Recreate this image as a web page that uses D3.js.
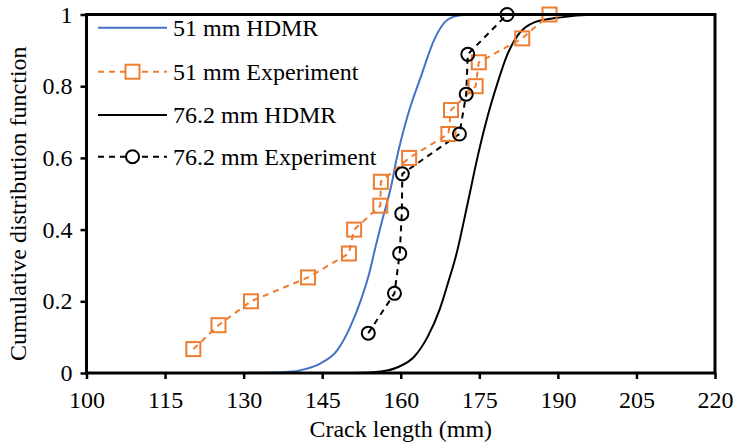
<!DOCTYPE html>
<html><head><meta charset="utf-8">
<script src="https://cdn.jsdelivr.net/npm/d3@7"></script>
<style>
html,body{margin:0;padding:0;background:#fff;}
text{font-family:"Liberation Serif","Times New Roman",serif;fill:#000;}
</style></head>
<body><svg id="c" width="736" height="445"></svg>
<script>
// ---- data ----
const xTicks = [100,115,130,145,160,175,190,205,220];
const yTicks = [0,0.2,0.4,0.6,0.8,1];
const yTickLabels = ["0","0.2","0.4","0.6","0.8","1"];

const hdmr51X = [126,134,139.6,140.9,144.7,147.9,150.4,152.4,154,155.2,156.5,158.3,159.1,161.3,163.9,166.4,169,171.5,176.3];
const hdmr51Y = [0,0.001,0.004,0.008,0.027,0.064,0.13,0.204,0.279,0.353,0.428,0.53,0.59,0.717,0.829,0.93,0.986,0.998,1.0];

const exp51X = [120.4,125.2,131.4,142.3,150.1,151.1,156.1,156.2,161.6,169.1,169.6,174.3,174.9,183.2,188.4];
const exp51Y = [1/15,2/15,3/15,4/15,5/15,6/15,7/15,8/15,9/15,10/15,11/15,12/15,13/15,14/15,1];

const hdmr76X = [148,153,156.2,159.4,162.6,165.1,167.4,169,170.6,172.8,174.7,176.6,178.5,180.4,182.3,185.5,190.6,196.4,202];
const hdmr76Y = [0,0.001,0.004,0.016,0.046,0.10,0.176,0.25,0.33,0.475,0.605,0.717,0.81,0.89,0.941,0.978,0.992,0.999,1.0];

const exp76X = [153.8,158.8,159.8,160.2,160.3,171.2,172.5,172.8,180.3];
const exp76Y = [1/9,2/9,3/9,4/9,5/9,6/9,7/9,8/9,1];

const legendLabels = ["51 mm HDMR","51 mm Experiment","76.2 mm HDMR","76.2 mm Experiment"];

// ---- layout ----
const svg = d3.select("#c");
const L = 86.5, R = 715, T = 14.5, B = 373;
const x = d3.scaleLinear().domain([100,220]).range([L,R]);
const y = d3.scaleLinear().domain([0,1]).range([B,T]);
const FS = 24;
const orange = "#ED7D31", blue = "#4472C4";

const zip = (a,b)=>a.map((v,i)=>[v,b[i]]);
const line = d3.line().x(d=>x(d[0])).y(d=>y(d[1]));
const smooth = d3.line().x(d=>x(d[0])).y(d=>y(d[1])).curve(d3.curveMonotoneX);

// axes
const xAxis = d3.axisBottom(x).tickValues(xTicks).tickSize(6).tickSizeOuter(0).tickPadding(6).tickFormat(d3.format("d"));
const gx = svg.append("g").attr("transform",`translate(0,${B})`).call(xAxis);
gx.select(".domain").remove();
gx.selectAll("line").attr("stroke","#000").attr("stroke-width",2.5);
gx.selectAll("text").attr("font-size",FS).attr("font-family","Liberation Serif").attr("dy","0.95em");

const yAxis = d3.axisLeft(y).tickValues(yTicks).tickSize(6).tickSizeOuter(0).tickPadding(8).tickFormat((d,i)=>yTickLabels[i]);
const gy = svg.append("g").attr("transform",`translate(${L},0)`).call(yAxis);
gy.select(".domain").remove();
gy.selectAll("line").attr("stroke","#000").attr("stroke-width",2.5);
gy.selectAll("text").attr("font-size",FS).attr("font-family","Liberation Serif");

// series
svg.append("path").datum(zip(hdmr51X,hdmr51Y)).attr("d",smooth).attr("fill","none").attr("stroke",blue).attr("stroke-width",2);
svg.append("path").datum(zip(hdmr76X,hdmr76Y)).attr("d",smooth).attr("fill","none").attr("stroke","#000").attr("stroke-width",2);

svg.append("path").datum(zip(exp51X,exp51Y)).attr("d",line).attr("fill","none").attr("stroke",orange).attr("stroke-width",2).attr("stroke-dasharray","6,5");
svg.append("path").datum(zip(exp76X,exp76Y)).attr("d",line).attr("fill","none").attr("stroke","#000").attr("stroke-width",2).attr("stroke-dasharray","6,5");

const S = 14;
svg.append("g").selectAll("rect").data(zip(exp51X,exp51Y)).join("rect")
  .attr("x",d=>x(d[0])-S/2).attr("y",d=>y(d[1])-S/2).attr("width",S).attr("height",S)
  .attr("fill","none").attr("stroke",orange).attr("stroke-width",2);
svg.append("g").selectAll("circle").data(zip(exp76X,exp76Y)).join("circle")
  .attr("cx",d=>x(d[0])).attr("cy",d=>y(d[1])).attr("r",6.5)
  .attr("fill","none").attr("stroke","#000").attr("stroke-width",2);

// frame
svg.append("rect").attr("x",L).attr("y",T).attr("width",R-L).attr("height",B-T)
  .attr("fill","none").attr("stroke","#000").attr("stroke-width",3);

// legend
const lx0 = 98, lx1 = 167, ltx = 173;
const ly = [27.7,71.7,115,156.7];
const lstyle = [
  {c:blue,dash:null,m:null},
  {c:orange,dash:"6,5",m:"sq"},
  {c:"#000",dash:null,m:null},
  {c:"#000",dash:"6,5",m:"ci"}
];
legendLabels.forEach((lab,i)=>{
  const g = svg.append("g");
  const st = lstyle[i];
  g.append("line").attr("x1",lx0).attr("x2",lx1).attr("y1",ly[i]).attr("y2",ly[i])
    .attr("stroke",st.c).attr("stroke-width",2).attr("stroke-dasharray",st.dash);
  const cx = (lx0+lx1)/2;
  if(st.m==="sq"){
    g.append("rect").attr("x",cx-S/2).attr("y",ly[i]-S/2).attr("width",S).attr("height",S)
      .attr("fill","#fff").attr("stroke",st.c).attr("stroke-width",2);
  } else if(st.m==="ci"){
    g.append("circle").attr("cx",cx).attr("cy",ly[i]).attr("r",6.5)
      .attr("fill","#fff").attr("stroke",st.c).attr("stroke-width",2);
  }
  g.append("text").attr("x",ltx).attr("y",ly[i]).attr("dy","0.33em").attr("font-size",FS).text(lab);
});

// axis titles
svg.append("text").attr("x",(L+R)/2).attr("y",437).attr("text-anchor","middle").attr("font-size",FS).text("Crack length (mm)");
svg.append("text").attr("transform",`translate(26,${(T+B)/2+10}) rotate(-90)`).attr("text-anchor","middle").attr("font-size",FS).text("Cumulative distribution function");
</script></body></html>
